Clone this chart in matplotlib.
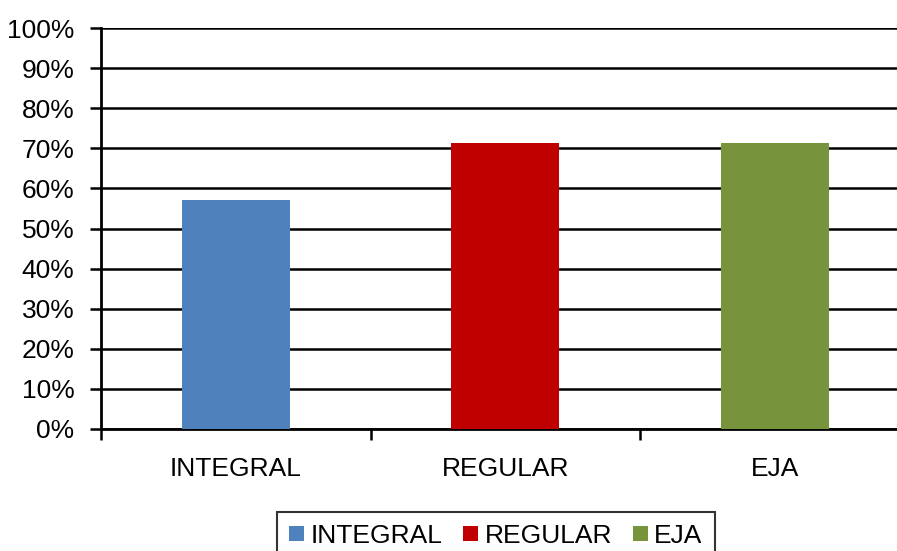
import numpy as np
import matplotlib.pyplot as plt
from matplotlib.ticker import PercentFormatter

# Participação por modalidade de ensino
categorias = ['INTEGRAL', 'REGULAR', 'EJA']
percentuais = [57.14, 71.43, 71.43]
cores = ['#4F81BD', '#C00000', '#77933C']

plt.rcParams['font.family'] = ['Liberation Sans', 'DejaVu Sans']
plt.rcParams['font.size'] = 19

fig = plt.figure(figsize=(8.97, 5.51), dpi=100)
ax = fig.add_axes([101 / 897, 1 - 429 / 551, 808.5 / 897, 401 / 551])

x = np.arange(len(categorias))
barras = ax.bar(x, percentuais, width=0.4, color=cores, zorder=3)

ax.set_ylim(0, 100)
ax.set_xlim(-0.5, len(categorias) - 0.5)
ax.set_yticks(np.arange(0, 101, 10))
ax.yaxis.set_major_formatter(PercentFormatter(decimals=0))
ax.grid(axis='y', color='black', linewidth=1.8, zorder=0)
ax.set_axisbelow(True)

# rótulos no centro, marcas nas divisões das categorias
ax.set_xticks(x)
ax.set_xticklabels(categorias)
ax.set_xticks(np.arange(-0.5, len(categorias), 1.0), minor=True)
ax.tick_params(axis='x', which='major', length=0, pad=20)
ax.tick_params(axis='x', which='minor', length=8, width=1.8, color='black')
ax.tick_params(axis='y', length=8, width=1.8, pad=11)

for lado in ['top', 'right']:
    ax.spines[lado].set_visible(False)
for lado in ['left', 'bottom']:
    ax.spines[lado].set_linewidth(2)
    ax.spines[lado].set_color('black')

leg = fig.legend(barras, categorias, loc='upper center',
                 bbox_to_anchor=(496 / 897, 1 - 512 / 551), ncol=3,
                 frameon=True, fancybox=False, handlelength=0.55,
                 handleheight=0.55, handletextpad=0.25, columnspacing=0.8,
                 borderpad=0.45, borderaxespad=0)
leg.get_frame().set_edgecolor('black')
leg.get_frame().set_linewidth(1.5)

fig.savefig('out.png', dpi=100)
